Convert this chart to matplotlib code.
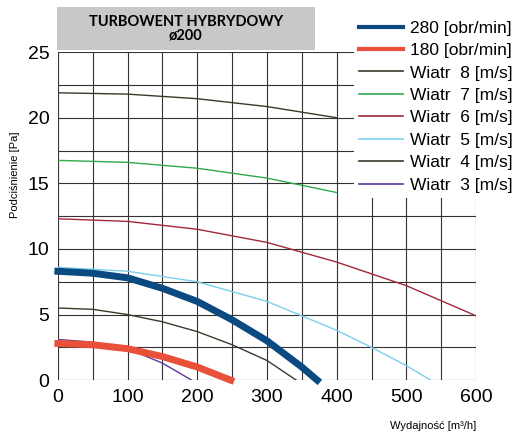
import matplotlib
matplotlib.use("Agg")
import matplotlib.pyplot as plt

x280 = [0, 50, 100, 150, 200, 250, 300, 350, 372]
y280 = [8.3, 8.15, 7.8, 7.0, 6.0, 4.6, 3.0, 1.0, 0]
x180 = [0, 50, 100, 150, 200, 248]
y180 = [2.8, 2.7, 2.4, 1.8, 1.0, 0]
x8 = [0, 100, 200, 300, 400]
y8 = [21.9, 21.8, 21.45, 20.85, 20.0]
x7 = [0, 100, 200, 300, 400]
y7 = [16.75, 16.6, 16.15, 15.4, 14.3]
x6 = [0, 100, 200, 300, 400, 500, 600]
y6 = [12.3, 12.1, 11.5, 10.5, 9.0, 7.2, 4.9]
x5 = [0, 100, 200, 300, 400, 450, 500, 535]
y5 = [8.6, 8.3, 7.5, 6.0, 3.8, 2.5, 1.1, 0]
x4 = [0, 50, 100, 150, 200, 250, 300, 342]
y4 = [5.5, 5.4, 5.0, 4.45, 3.7, 2.7, 1.5, 0]
x3 = [0, 50, 100, 150, 192]
y3 = [3.1, 2.9, 2.4, 1.3, 0]

plt.rcParams['font.family'] = ['Liberation Sans', 'DejaVu Sans']
fig = plt.figure(figsize=(5.12, 4.38), dpi=100)
ax = fig.add_axes([0.113, 0.132, 0.817, 0.749])
ax.set_xlim(0, 600)
ax.set_ylim(0, 25)
ax.set_xticks(range(0, 601, 100))
ax.set_xticks(range(0, 601, 50), minor=True)
ax.set_yticks(range(0, 26, 5))
ax.set_yticks([i * 2.5 for i in range(11)], minor=True)
ax.grid(True, which='both', color='#333333', lw=0.8)
for s in ax.spines.values():
    s.set_visible(False)
ax.tick_params(which='both', length=0, labelsize=14, pad=6)

ax.plot(x8, y8, color='#3a3a2a', lw=1, label='Wiatr  8 [m/s]')
ax.plot(x7, y7, color='#2eaa4a', lw=1, label='Wiatr  7 [m/s]')
ax.plot(x6, y6, color='#a0283a', lw=1, label='Wiatr  6 [m/s]')
ax.plot(x5, y5, color='#7ccfea', lw=1, label='Wiatr  5 [m/s]')
ax.plot(x4, y4, color='#3a3a2a', lw=1, label='Wiatr  4 [m/s]')
ax.plot(x3, y3, color='#5a3a9a', lw=1, label='Wiatr  3 [m/s]')
ax.plot(x280, y280, color='#0a4a80', lw=5, label='280 [obr/min]', clip_on=False)
ax.plot(x180, y180, color='#e8503a', lw=5, label='180 [obr/min]', clip_on=False)

h, l = ax.get_legend_handles_labels()
order = [6, 7, 0, 1, 2, 3, 4, 5]
leg = fig.legend([h[i] for i in order], [l[i] for i in order], loc='upper left',
                 bbox_to_anchor=(0.675, 0.985), fontsize=12.5, frameon=True,
                 handlelength=2.5, handletextpad=0.4, labelspacing=0.42, borderpad=0.3)
leg.get_frame().set_facecolor('white')
leg.get_frame().set_edgecolor('none')
leg.get_frame().set_alpha(1)
for lh in leg.get_lines():
    lh.set_linewidth(1.2 if lh.get_linewidth() < 3 else 3)

fig.patches.append(plt.Rectangle((0.111, 0.885), 0.504, 0.1, transform=fig.transFigure,
                                 facecolor='#c8c8c8', edgecolor='none', zorder=-1))
fig.text(0.363, 0.934, 'TURBOWENT HYBRYDOWY\nø200', ha='center', va='center',
         fontsize=10.5, fontweight='bold', linespacing=1.0, family=['Lato', 'DejaVu Sans'])
fig.text(0.02, 0.6, 'Podciśnienie [Pa]', rotation=90, fontsize=8, va='center')
fig.text(0.93, 0.02, 'Wydajność [m³/h]', ha='right', fontsize=8)
fig.savefig('out.png', dpi=100)
